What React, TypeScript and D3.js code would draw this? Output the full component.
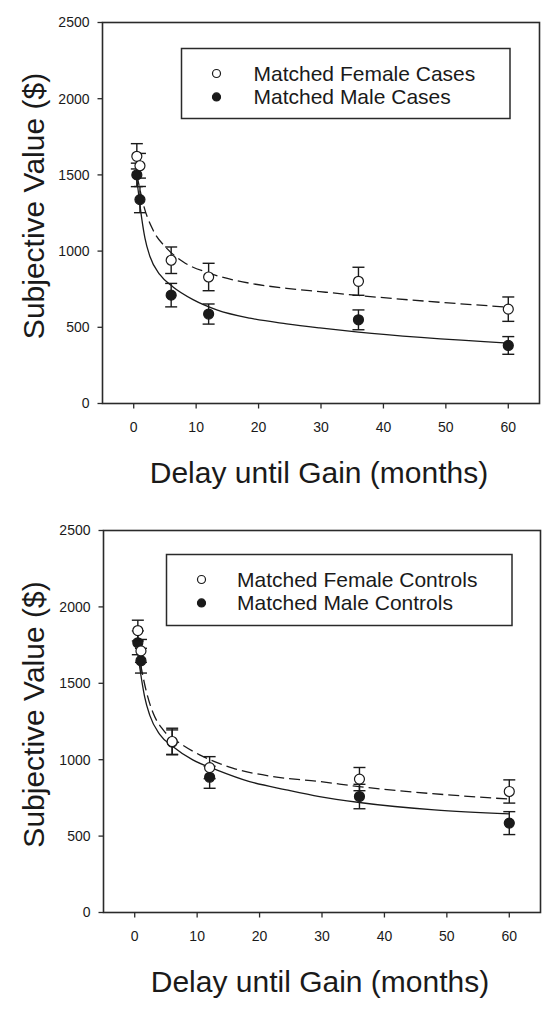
import React, { useEffect } from "react";
import * as d3 from "d3";

// ---------- data ----------
const delays = [0.5, 1, 6, 12, 36, 60];
const xTicks = [0, 10, 20, 30, 40, 50, 60];
const yTicks = [0, 500, 1000, 1500, 2000, 2500];

// Panel 1: cases
const casesFemale = [1622, 1560, 940, 830, 802, 619];
const casesFemaleErr = [83, 81, 87, 90, 92, 80];
const casesMale = [1500, 1338, 711, 587, 549, 381];
const casesMaleErr = [77, 86, 77, 66, 65, 58];
const casesFemaleFitX = [0.5, 0.9, 1.5, 3.1, 5.3, 7.9, 12.2, 18.6, 24.5, 29.8, 36, 60];
const casesFemaleFitY = [1500, 1423, 1314, 1138, 1018, 930, 854, 789, 756, 734, 709, 632];
const casesMaleFitX = [0.5, 0.9, 1.3, 1.8, 2.6, 4.2, 6.3, 9.5, 13.3, 18.6, 24.5, 29.8, 36, 60];
const casesMaleFitY = [1470, 1335, 1210, 1085, 965, 845, 765, 682, 615, 560, 523, 496, 468, 396];

// Panel 2: controls
const controlsFemale = [1845, 1712, 1119, 948, 873, 792];
const controlsFemaleErr = [68, 75, 87, 72, 76, 76];
const controlsMale = [1765, 1648, 1115, 885, 759, 585];
const controlsMaleErr = [78, 81, 80, 72, 80, 75];
const controlsFemaleFitX = [0.5, 1.2, 1.9, 2.9, 4.5, 7.2, 10.4, 15.7, 22.1, 29.6, 36, 60];
const controlsFemaleFitY = [1730, 1570, 1440, 1310, 1198, 1109, 1032, 945, 890, 857, 824, 742];
const controlsMaleFitX = [0.5, 1.2, 1.6, 2.4, 4.0, 6.1, 9.3, 13.1, 18.4, 24.3, 29.6, 36, 60];
const controlsMaleFitY = [1690, 1500, 1410, 1292, 1166, 1087, 999, 934, 857, 803, 759, 720, 645];

const legendCases = ["Matched Female Cases", "Matched Male Cases"];
const legendControls = ["Matched Female Controls", "Matched Male Controls"];

const FONT = "'Liberation Sans', Arial, Helvetica, sans-serif";
const INK = "#1a1a1a";

type PanelProps = {
  left: number; right: number; top: number; bottom: number;
  female: number[]; femaleErr: number[]; male: number[]; maleErr: number[];
  fFitX: number[]; fFitY: number[]; mFitX: number[]; mFitY: number[];
  legend: string[];
  lx: number; ly: number; lw: number; lh: number; symOff: number; textOff: number;
};

function Panel(p: PanelProps) {
  const x = d3.scaleLinear().domain([-5, 65]).range([p.left, p.right]);
  const y = d3.scaleLinear().domain([0, 2500]).range([p.bottom, p.top]);
  const line = d3
    .line<[number, number]>()
    .x((d) => x(d[0]))
    .y((d) => y(d[1]))
    .curve(d3.curveMonotoneX);
  const fPts = p.fFitX.map((v, i) => [v, p.fFitY[i]] as [number, number]);
  const mPts = p.mFitX.map((v, i) => [v, p.mFitY[i]] as [number, number]);
  const cap = 6;
  const r = 5;

  const errBars = (vals: number[], errs: number[], key: string) =>
    delays.map((d, i) => {
      const cx = x(d);
      const y1 = y(vals[i] + errs[i]);
      const y2 = y(vals[i] - errs[i]);
      return (
        <g key={key + i} stroke={INK} strokeWidth={1.4}>
          <line x1={cx} x2={cx} y1={y1} y2={y2} />
          <line x1={cx - cap} x2={cx + cap} y1={y1} y2={y1} />
          <line x1={cx - cap} x2={cx + cap} y1={y2} y2={y2} />
        </g>
      );
    });

  const cy = (p.top + p.bottom) / 2 - 7;
  return (
    <g fontFamily={FONT} fill={INK}>
      {/* fit curves */}
      <path d={line(mPts) || ""} fill="none" stroke={INK} strokeWidth={1.3} />
      <path d={line(fPts) || ""} fill="none" stroke={INK} strokeWidth={1.3} strokeDasharray="11,5" />
      {/* male */}
      {errBars(p.male, p.maleErr, "me")}
      {delays.map((d, i) => (
        <circle key={"m" + i} cx={x(d)} cy={y(p.male[i])} r={r} fill={INK} stroke={INK} strokeWidth={1.2} />
      ))}
      {/* female */}
      {errBars(p.female, p.femaleErr, "fe")}
      {delays.map((d, i) => (
        <circle key={"f" + i} cx={x(d)} cy={y(p.female[i])} r={r} fill="#fff" stroke={INK} strokeWidth={1.2} />
      ))}
      {/* frame */}
      <rect x={p.left} y={p.top} width={p.right - p.left} height={p.bottom - p.top} fill="none" stroke="#2a2a2a" strokeWidth={1.6} />
      {/* y axis */}
      {yTicks.map((t) => (
        <g key={"yt" + t}>
          <line x1={p.left - 5} x2={p.left} y1={y(t)} y2={y(t)} stroke="#2a2a2a" strokeWidth={1.3} />
          <text x={p.left - 13} y={y(t)} dy="0.35em" textAnchor="end" fontSize={14} stroke="none">
            {t}
          </text>
        </g>
      ))}
      {/* x axis */}
      {xTicks.map((t) => (
        <g key={"xt" + t}>
          <line x1={x(t)} x2={x(t)} y1={p.bottom} y2={p.bottom + 5} stroke="#2a2a2a" strokeWidth={1.3} />
          <text x={x(t)} y={p.bottom + 24} dy="0.35em" textAnchor="middle" fontSize={14} stroke="none">
            {t}
          </text>
        </g>
      ))}
      <text x={(p.left + p.right) / 2 - 2} y={p.bottom + 68.5} dy="0.35em" textAnchor="middle" fontSize={30}>
        Delay until Gain (months)
      </text>
      <text
        transform={`translate(33,${cy}) rotate(-90)`}
        dy="0.35em"
        textAnchor="middle"
        fontSize={30}
      >
        Subjective Value ($)
      </text>
      {/* legend */}
      <rect x={p.lx} y={p.ly} width={p.lw} height={p.lh} fill="#fff" stroke="#2a2a2a" strokeWidth={1.5} />
      {p.legend.map((lab, i) => {
        const yy = p.ly + 25 + i * 23.4;
        return (
          <g key={"lg" + i}>
            <circle cx={p.lx + p.symOff} cy={yy} r={4} fill={i === 0 ? "#fff" : INK} stroke={INK} strokeWidth={1.2} />
            <text x={p.lx + p.textOff} y={yy} dy="0.35em" fontSize={21}>
              {lab}
            </text>
          </g>
        );
      })}
    </g>
  );
}

export default function App() {
  useEffect(() => {
    document.body.style.margin = "0";
  }, []);
  return (
    <div style={{ position: "absolute", left: 0, top: 0, background: "#fff" }}>
      <svg width={556} height={1009} style={{ display: "block" }}>
        <rect x={0} y={0} width={556} height={1009} fill="#fff" />
        <Panel
          left={102.5} right={539.5} top={22.5} bottom={403.5}
          female={casesFemale} femaleErr={casesFemaleErr} male={casesMale} maleErr={casesMaleErr}
          fFitX={casesFemaleFitX} fFitY={casesFemaleFitY} mFitX={casesMaleFitX} mFitY={casesMaleFitY}
          legend={legendCases}
          lx={181.5} ly={48.5} lw={328.5} lh={70} symOff={35} textOff={72}
        />
        <Panel
          left={103.5} right={540.5} top={530.5} bottom={912.5}
          female={controlsFemale} femaleErr={controlsFemaleErr} male={controlsMale} maleErr={controlsMaleErr}
          fFitX={controlsFemaleFitX} fFitY={controlsFemaleFitY} mFitX={controlsMaleFitX} mFitY={controlsMaleFitY}
          legend={legendControls}
          lx={166.5} ly={554.5} lw={345.5} lh={71} symOff={35} textOff={70.5}
        />
      </svg>
    </div>
  );
}
